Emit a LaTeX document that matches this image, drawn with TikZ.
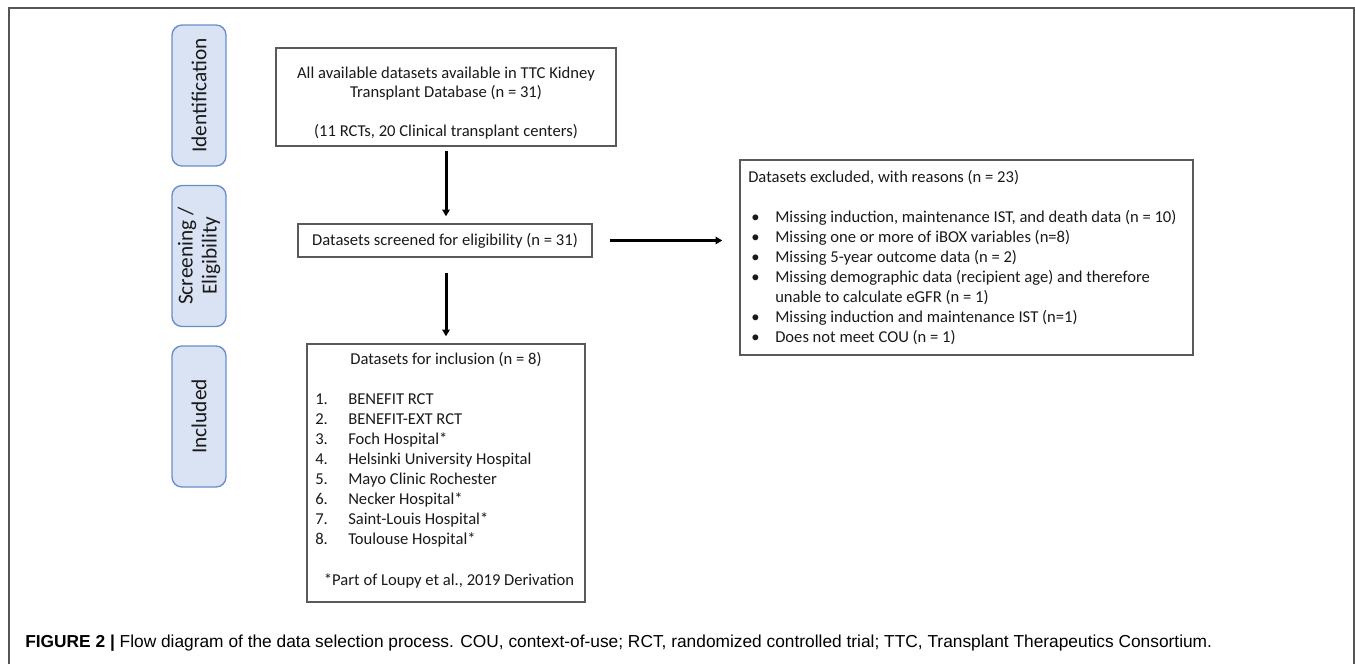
\documentclass[tikz,border=0pt]{standalone}
\usepackage{fontspec}
\setmainfont{Carlito}
\newfontfamily\capfont{Liberation Sans}
\usetikzlibrary{arrows.meta}
\definecolor{boxgray}{HTML}{595959}
\definecolor{pillblue}{HTML}{6A8CC7}
\definecolor{pillfill}{HTML}{DAE3F3}
\definecolor{framegray}{HTML}{555555}
\definecolor{txtcol}{HTML}{1A1A1A}
\tikzset{
  box/.style={draw=boxgray, line width=1pt, fill=white, inner sep=0pt},
  pill/.style={draw=pillblue, fill=pillfill, rounded corners=7.5pt, line width=1pt,
    rotate=90, minimum width=105.75pt, minimum height=40.5pt, inner sep=0pt,
    align=center, font=\fontsize{16}{18}\selectfont, text=txtcol},
  txt/.style={font=\fontsize{12.45}{14.6}\selectfont, inner sep=0pt, text=txtcol},
  arr/.style={line width=2.25pt, -{Triangle[length=5pt,width=5.5pt]}},
  captxt/.style={font=\capfont\fontsize{13}{15}\selectfont, inner sep=0pt, text=black}
}
\begin{document}
\begin{tikzpicture}[x=0.75pt,y=-0.75pt]
\useasboundingbox (0,0) rectangle (1355,664);
\fill[white] (0,0) rectangle (1355,664);
\draw[framegray, line width=1.1pt] (9,664) -- (9,8) -- (1354,8) -- (1354,664);

% phase pills
\node[pill] (pid) at (199,95.5) {Identification};
\node[pill] (pscr) at (199,256) {Screening /\\Eligibility};
\node[pill] (pinc) at (199,416.5) {Included};

% box 1
\node[box, minimum width=255pt, minimum height=73.5pt] (b1) at (446,97) {};
\node[txt, anchor=base] (b1l1) at (446,78) {All available datasets available in TTC Kidney};
\node[txt, anchor=base] (b1l2) at (446,97.5) {Transplant Database (n = 31)};
\node[txt, anchor=base] (b1l3) at (446,136) {(11 RCTs, 20 Clinical transplant centers)};

% box 2
\node[box, minimum width=220.5pt, minimum height=24.75pt] (b2) at (445,240.5) {};
\node[txt, anchor=base] (b2t) at (445,245.5) {Datasets screened for eligibility (n = 31)};

% box 3
\node[box, minimum width=208.5pt, minimum height=193.5pt] (b3) at (446,473) {};
\node[txt, anchor=base] (b3h) at (446,364) {Datasets for inclusion (n = 8)};
\foreach \i/\t [count=\k from 0] in {1/BENEFIT RCT, 2/BENEFIT-EXT RCT, 3/Foch Hospital*,
  4/Helsinki University Hospital, 5/Mayo Clinic Rochester, 6/Necker Hospital*,
  7/Saint-Louis Hospital*, 8/Toulouse Hospital*}{
  \node[txt, anchor=base west] (n\i) at (315,{404+20*\k}) {\i.};
  \node[txt, anchor=base west] (t\i) at (348,{404+20*\k}) {\t};
}
\node[txt, anchor=base] (b3f) at (449,585) {*Part of Loupy et al., 2019 Derivation};

% excluded box
\node[box, minimum width=339.75pt, minimum height=146.25pt] (ex) at (966.5,257.5) {};
\node[txt, anchor=base west] (exh) at (748,182) {Datasets excluded, with reasons (n = 23)};
\foreach \t/\yy [count=\k] in {{Missing induction, maintenance IST, and death data (n = 10)}/222,
  {Missing one or more of iBOX variables (n=8)}/242,
  {Missing 5-year outcome data (n = 2)}/262,
  {Missing demographic data (recipient age) and therefore}/282,
  {Missing induction and maintenance IST (n=1)}/322,
  {Does not meet COU (n = 1)}/342}{
  \node[txt, anchor=base west] (eb\k) at (751,\yy) {\textbullet};
  \node[txt, anchor=base west] (et\k) at (775,\yy) {\t};
}
\node[txt, anchor=base west] (et4b) at (775,302) {unable to calculate eGFR (n = 1)};

% arrows
\draw[arr, shorten <=3pt, shorten >=5.25pt] (b1.south) -- (b1.south |- b2.north);
\draw[arr, shorten <=11.25pt, shorten >=5.25pt] (b2.south -| b3.north) -- (b3.north);
\draw[arr, shorten <=12.75pt, shorten >=12.75pt] (b2.east) -- (b2.east -| ex.west);

% caption
\node[captxt, anchor=base west] (cap) at (25,647) {\textbf{FIGURE 2 |} Flow diagram of the data selection process. COU, context-of-use; RCT, randomized controlled trial; TTC, Transplant Therapeutics Consortium.};
\end{tikzpicture}
\end{document}
